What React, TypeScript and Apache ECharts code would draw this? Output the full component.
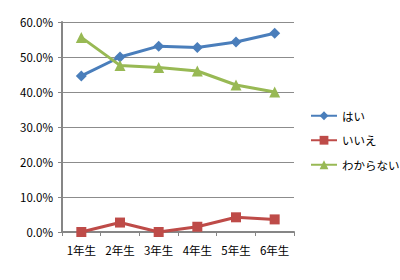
import React, { useEffect, useRef } from "react";
import * as echarts from "echarts";

const categories = ["1年生", "2年生", "3年生", "4年生", "5年生", "6年生"];
const hai = [44.6, 50.0, 53.1, 52.7, 54.3, 56.8];
const iie = [0.0, 2.7, 0.0, 1.5, 4.2, 3.6];
const wakaranai = [55.6, 47.6, 47.0, 46.0, 42.0, 40.0];
const yTicks = { min: 0, max: 60, interval: 10 };

const FONT = "'Noto Sans CJK JP', 'Noto Sans', sans-serif";

export default function App() {
  const ref = useRef<HTMLDivElement>(null);
  useEffect(() => {
    const chart = echarts.init(ref.current!, null, { renderer: "svg" });
    const mk = (name: string, data: number[], color: string, symbol: string, size: number) => ({
      name,
      type: "line",
      data,
      symbol,
      symbolSize: size,
      lineStyle: { color, width: 3 },
      itemStyle: { color },
      color,
    });
    chart.setOption({
      animation: false,
      textStyle: { fontFamily: FONT },
      grid: { left: 62, right: 106, top: 22, bottom: 48 },
      legend: {
        orient: "vertical",
        left: 305,
        top: 105,
        itemWidth: 26,
        itemHeight: 11,
        itemGap: 13,
        textStyle: { fontSize: 11.5, color: "#000", fontFamily: FONT },
        data: ["はい", "いいえ", "わからない"],
      },
      xAxis: {
        type: "category",
        data: categories,
        boundaryGap: true,
        axisLine: { lineStyle: { color: "#868686", width: 2 } },
        axisTick: { show: true, length: 4, lineStyle: { color: "#868686" } },
        axisLabel: { color: "#000", fontSize: 11.5, margin: 12, interval: 0, hideOverlap: false, fontFamily: FONT },
      },
      yAxis: {
        type: "value",
        min: yTicks.min,
        max: yTicks.max,
        interval: yTicks.interval,
        axisLine: { show: true, lineStyle: { color: "#868686", width: 2 } },
        axisTick: { show: true, length: 4, lineStyle: { color: "#868686" } },
        splitLine: { lineStyle: { color: "#8c8c8c", width: 1 } },
        axisLabel: {
          color: "#000",
          fontSize: 11.5,
          margin: 9,
          fontFamily: FONT,
          formatter: (v: number) => v.toFixed(1) + "%",
        },
      },
      series: [
        mk("はい", hai, "#4A7EBB", "diamond", 11),
        mk("いいえ", iie, "#BE4B48", "rect", 10),
        mk("わからない", wakaranai, "#98B954", "triangle", 11),
      ],
    });
    return () => chart.dispose();
  }, []);
  return (
    <div
      ref={ref}
      style={{ position: "fixed", left: 0, top: 0, width: 400, height: 280, background: "#fff" }}
    />
  );
}
